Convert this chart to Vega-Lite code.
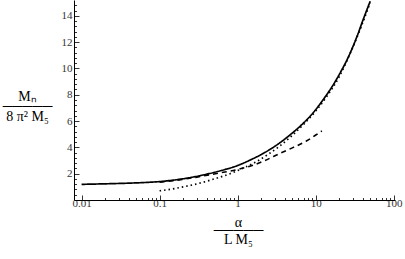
{
  "$schema": "https://vega.github.io/schema/vega-lite/v6.json",
  "width": 321,
  "height": 200,
  "autosize": "none",
  "padding": {"left": 74, "top": 0, "right": 10, "bottom": 59},
  "background": "white",
  "config": {"view": {"stroke": null}},
  "data": {"values": [
    {"a": 0.01, "m": 1.19, "s": "solid"},
    {"a": 0.02, "m": 1.23, "s": "solid"},
    {"a": 0.04, "m": 1.28, "s": "solid"},
    {"a": 0.07, "m": 1.34, "s": "solid"},
    {"a": 0.1, "m": 1.4, "s": "solid"},
    {"a": 0.15, "m": 1.51, "s": "solid"},
    {"a": 0.25, "m": 1.71, "s": "solid"},
    {"a": 0.4, "m": 1.96, "s": "solid"},
    {"a": 0.6, "m": 2.22, "s": "solid"},
    {"a": 1.0, "m": 2.62, "s": "solid"},
    {"a": 1.5, "m": 3.08, "s": "solid"},
    {"a": 2.1, "m": 3.52, "s": "solid"},
    {"a": 3.5, "m": 4.36, "s": "solid"},
    {"a": 5.0, "m": 5.08, "s": "solid"},
    {"a": 6.3, "m": 5.6, "s": "solid"},
    {"a": 9.2, "m": 6.6, "s": "solid"},
    {"a": 12.4, "m": 7.6, "s": "solid"},
    {"a": 17, "m": 8.8, "s": "solid"},
    {"a": 21, "m": 9.75, "s": "solid"},
    {"a": 25, "m": 10.6, "s": "solid"},
    {"a": 30, "m": 11.65, "s": "solid"},
    {"a": 35, "m": 12.65, "s": "solid"},
    {"a": 40, "m": 13.6, "s": "solid"},
    {"a": 45, "m": 14.4, "s": "solid"},
    {"a": 50, "m": 15.1, "s": "solid"},
    {"a": 0.1, "m": 0.7, "s": "dotted"},
    {"a": 0.14, "m": 0.82, "s": "dotted"},
    {"a": 0.2, "m": 1.0, "s": "dotted"},
    {"a": 0.3, "m": 1.22, "s": "dotted"},
    {"a": 0.5, "m": 1.6, "s": "dotted"},
    {"a": 0.8, "m": 2.0, "s": "dotted"},
    {"a": 1.2, "m": 2.45, "s": "dotted"},
    {"a": 1.7, "m": 2.88, "s": "dotted"},
    {"a": 2.5, "m": 3.5, "s": "dotted"},
    {"a": 3.5, "m": 4.12, "s": "dotted"},
    {"a": 5.0, "m": 4.9, "s": "dotted"},
    {"a": 7.0, "m": 5.75, "s": "dotted"},
    {"a": 10, "m": 6.75, "s": "dotted"},
    {"a": 14, "m": 7.9, "s": "dotted"},
    {"a": 20, "m": 9.35, "s": "dotted"},
    {"a": 28, "m": 11.2, "s": "dotted"},
    {"a": 38, "m": 13.1, "s": "dotted"},
    {"a": 50, "m": 15.0, "s": "dotted"},
    {"a": 0.1, "m": 1.36, "s": "dashed"},
    {"a": 0.15, "m": 1.47, "s": "dashed"},
    {"a": 0.3, "m": 1.74, "s": "dashed"},
    {"a": 0.5, "m": 1.98, "s": "dashed"},
    {"a": 1.0, "m": 2.32, "s": "dashed"},
    {"a": 1.5, "m": 2.6, "s": "dashed"},
    {"a": 2.2, "m": 2.98, "s": "dashed"},
    {"a": 3.5, "m": 3.55, "s": "dashed"},
    {"a": 5.1, "m": 3.98, "s": "dashed"},
    {"a": 7.7, "m": 4.5, "s": "dashed"},
    {"a": 10.7, "m": 5.05, "s": "dashed"},
    {"a": 12, "m": 5.25, "s": "dashed"}
  ]},
  "mark": {"type": "line", "color": "black", "strokeCap": "butt", "clip": true, "interpolate": "monotone"},
  "encoding": {
    "x": {
      "field": "a", "type": "quantitative",
      "scale": {"type": "log", "domain": [0.008, 104], "nice": false},
      "axis": {
        "values": [0.01,0.02,0.03,0.04,0.05,0.06,0.07,0.08,0.09,0.1,0.2,0.3,0.4,0.5,0.6,0.7,0.8,0.9,1,2,3,4,5,6,7,8,9,10,20,30,40,50,60,70,80,90,100],
        "labelExpr": "indexof([0.01,0.1,1,10,100], datum.value) >= 0 ? format(datum.value, '~g') : ''",
        "tickSize": {"condition": {"test": "indexof([0.01,0.1,1,10,100], datum.value) >= 0", "value": -5}, "value": -2.5},
        "tickColor": "black",
        "tickWidth": 0.8,
        "domainColor": "black",
        "domainWidth": 1,
        "labelFont": "Liberation Serif",
        "labelFontSize": 11,
        "labelColor": "#333",
        "labelPadding": 2,
        "labelFlush": false,
        "labelOverlap": false,
        "grid": false,
        "title": ["α", "─────", "L M₅"],
        "titleFont": "Liberation Serif",
        "titleFontSize": 14,
        "titleFontWeight": "normal",
        "titleColor": "black",
        "titleLineHeight": 8.5,
        "titleAngle": 0,
        "titleAlign": "center",
        "titleBaseline": "middle",
        "titleX": 164,
        "titleY": 22
      }
    },
    "y": {
      "field": "m", "type": "quantitative",
      "scale": {"domain": [0, 15.2], "nice": false},
      "axis": {
        "values": [0.4,0.8,1.2,1.6,2,2.4,2.8,3.2,3.6,4,4.4,4.8,5.2,5.6,6,6.4,6.8,7.2,7.6,8,8.4,8.8,9.2,9.6,10,10.4,10.8,11.2,11.6,12,12.4,12.8,13.2,13.6,14,14.4,14.8],
        "labelExpr": "datum.value % 2 == 0 ? format(datum.value, 'd') : ''",
        "tickSize": {"condition": {"test": "datum.value % 2 == 0", "value": -5}, "value": -2.5},
        "tickColor": "black",
        "tickWidth": 0.8,
        "domainColor": "black",
        "domainWidth": 1,
        "labelFont": "Liberation Serif",
        "labelFontSize": 11,
        "labelColor": "#333",
        "labelPadding": 7,
        "labelFlush": false,
        "labelOverlap": false,
        "grid": false,
        "title": ["Mₙ", "─────", "8 π² M₅"],
        "titleFont": "Liberation Serif",
        "titleFontSize": 14,
        "titleFontWeight": "normal",
        "titleColor": "black",
        "titleLineHeight": 10,
        "titleAngle": 0,
        "titleAlign": "center",
        "titleBaseline": "middle",
        "titleX": -47,
        "titleY": 96
      }
    },
    "strokeDash": {
      "field": "s", "type": "nominal", "legend": null,
      "scale": {"domain": ["solid", "dotted", "dashed"], "range": [[1, 0], [1.5, 3], [5, 4]]}
    },
    "strokeWidth": {
      "field": "s", "type": "nominal", "legend": null,
      "scale": {"domain": ["solid", "dotted", "dashed"], "range": [1.7, 1.6, 1]}
    }
  }
}
